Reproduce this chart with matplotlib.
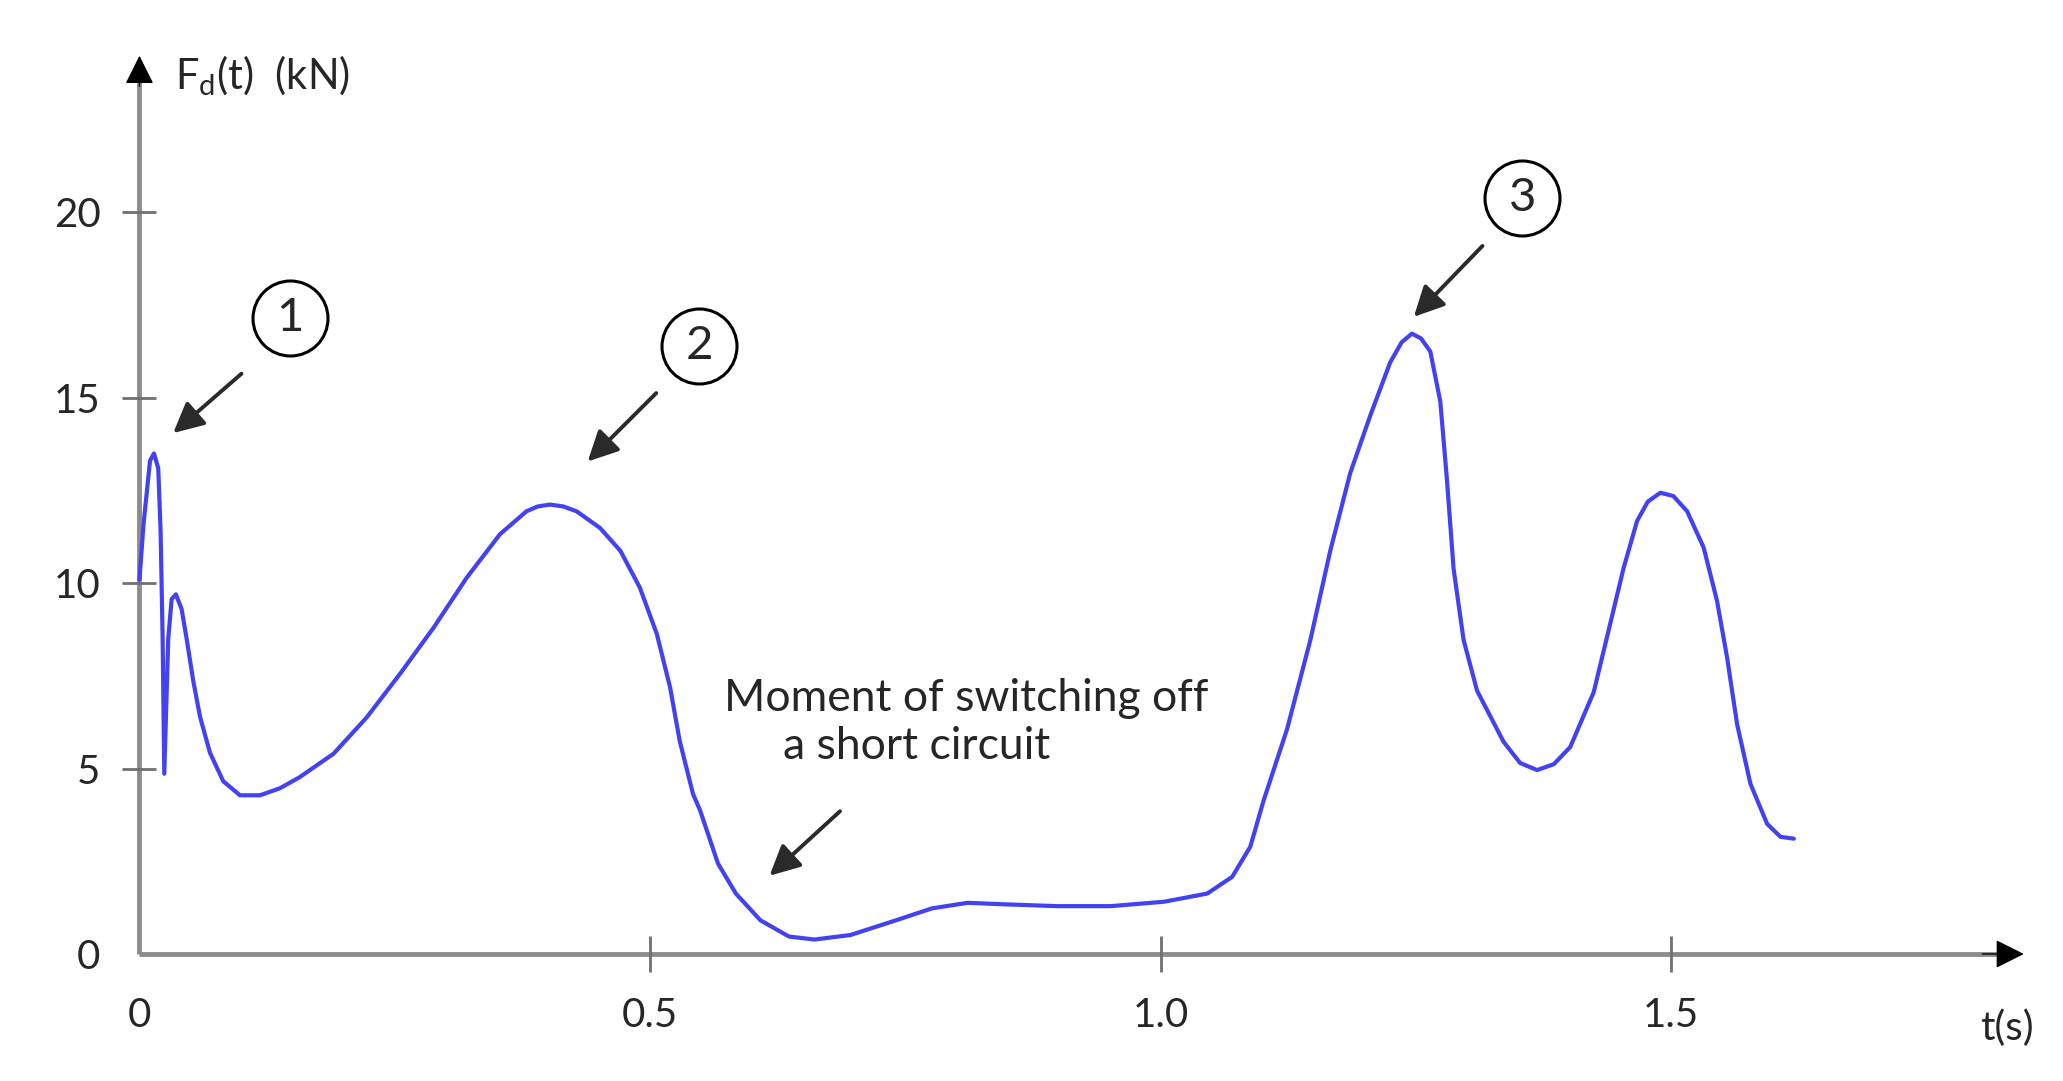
import matplotlib.pyplot as plt

plt.rcParams['font.family'] = ['Lato', 'DejaVu Sans']

# curve: t (s), Fd (kN)
t = [0.0, 0.004, 0.007, 0.0103, 0.0142, 0.0184, 0.0207, 0.0227, 0.0243, 0.0282,
     0.0315, 0.0357, 0.0413, 0.0462, 0.0527, 0.0593, 0.069, 0.082, 0.0984, 0.118,
     0.1376, 0.157, 0.19, 0.2225, 0.255, 0.288, 0.3205, 0.353, 0.379, 0.39,
     0.402, 0.415, 0.428, 0.451, 0.471, 0.490, 0.5066, 0.5196, 0.529, 0.542,
     0.549, 0.5665, 0.584, 0.608, 0.636, 0.661, 0.696, 0.741, 0.776, 0.811,
     0.846, 0.899, 0.951, 1.0035, 1.0456, 1.070, 1.0877, 1.1008, 1.1237, 1.1465,
     1.166, 1.1857, 1.2052, 1.2248, 1.236, 1.246, 1.255, 1.264, 1.2738, 1.2803,
     1.2868, 1.2966, 1.3098, 1.3358, 1.352, 1.3686, 1.385, 1.401, 1.424, 1.4403,
     1.4534, 1.4665, 1.477, 1.4893, 1.502, 1.5155, 1.5317, 1.5448, 1.5546, 1.5644,
     1.5775, 1.5938, 1.6069, 1.620]
force = [10.1, 11.6, 12.4, 13.3, 13.5, 13.1, 11.4, 8.5, 4.86, 8.5,
         9.57, 9.7, 9.3, 8.5, 7.36, 6.4, 5.43, 4.66, 4.28, 4.28,
         4.47, 4.77, 5.40, 6.38, 7.55, 8.80, 10.15, 11.32, 11.94, 12.07,
         12.12, 12.07, 11.94, 11.49, 10.87, 9.88, 8.63, 7.19, 5.75, 4.32,
         3.87, 2.44, 1.63, 0.91, 0.47, 0.39, 0.51, 0.91, 1.23, 1.38,
         1.34, 1.29, 1.29, 1.41, 1.63, 2.08, 2.89, 4.14, 6.06, 8.46,
         10.87, 12.98, 14.52, 15.96, 16.5, 16.73, 16.6, 16.25, 14.9, 12.79,
         10.39, 8.47, 7.10, 5.72, 5.15, 4.96, 5.12, 5.58, 7.06, 8.92,
         10.42, 11.68, 12.2, 12.44, 12.35, 11.94, 10.96, 9.52, 8.0, 6.20,
         4.59, 3.51, 3.16, 3.11]

xticks = [0, 0.5, 1.0, 1.5]
xtick_labels = ['0', '0.5', '1.0', '1.5']
yticks = [0, 5, 10, 15, 20]
ytick_labels = ['0', '5', '10', '15', '20']

# numbered markers: label, circle centre, arrow start, arrow tip
marks = ['1', '2', '3']
mark_pos = [(0.147, 17.16), (0.548, 16.4), (1.354, 20.4)]
arrow_from = [(0.102, 15.7), (0.508, 15.18), (1.317, 19.15)]
arrow_to = [(0.031, 14.0), (0.437, 13.23), (1.246, 17.13)]

fig = plt.figure(figsize=(20.63, 10.81), dpi=100)
ax = fig.add_axes([0.0676, 0.1175, 0.9148, 0.8335])
ax.set_xlim(0, 1.848)
ax.set_ylim(0, 24.3)
for s in ax.spines.values():
    s.set_visible(False)

axis_col = '#8c8c8c'
txt_col = '#262626'

# axes with arrow heads
ax.plot([0, 0.985], [0, 0], transform=ax.transAxes, color=axis_col, lw=3.5,
        clip_on=False, solid_capstyle='butt', zorder=1)
ax.plot([0, 0], [0, 0.98], transform=ax.transAxes, color=axis_col, lw=3.5,
        clip_on=False, solid_capstyle='butt', zorder=1)
ax.annotate('', xy=(1, 0), xytext=(0.975, 0), xycoords='axes fraction',
            arrowprops=dict(arrowstyle='-|>', color='black', lw=1,
                            mutation_scale=45))
ax.annotate('', xy=(0, 1), xytext=(0, 0.96), xycoords='axes fraction',
            arrowprops=dict(arrowstyle='-|>', color='black', lw=1,
                            mutation_scale=45))

ax.set_xticks(xticks)
ax.set_xticklabels(xtick_labels)
ax.set_yticks(yticks)
ax.set_yticklabels(ytick_labels)
ax.tick_params(axis='x', direction='inout', length=26, width=2,
               color='#707070', pad=18, labelsize=29, labelcolor=txt_col)
ax.tick_params(axis='y', direction='inout', length=24, width=2,
               color='#707070', pad=16, labelsize=29, labelcolor=txt_col)
ax.xaxis.get_major_ticks()[0].tick1line.set_visible(False)
ax.yaxis.get_major_ticks()[0].tick1line.set_visible(False)

ax.text(1.829, -2.0, 't(s)', fontsize=29, color=txt_col, ha='center',
        va='center', clip_on=False)
ax.text(0.035, 23.7, r'F$_\mathregular{d}$(t)  (kN)', fontsize=30,
        color=txt_col, ha='left', va='center')

ax.plot(t, force, color='#4242f2', lw=3, zorder=3, clip_on=False,
        solid_joinstyle='round', solid_capstyle='round')

for lab, pos, a0, a1 in zip(marks, mark_pos, arrow_from, arrow_to):
    ax.plot(*pos, 'o', ms=54, mfc='white', mec='black', mew=2.2, zorder=4)
    ax.text(*pos, lab, fontsize=34, ha='center', va='center',
            color=txt_col, zorder=5)
    ax.annotate('', xy=a1, xytext=a0,
                arrowprops=dict(arrowstyle='-|>', color='#2a2a2a', lw=2.8,
                                mutation_scale=46))

ax.text(0.572, 6.9, 'Moment of switching off', fontsize=32, color=txt_col,
        ha='left', va='center')
ax.text(0.630, 5.6, 'a short circuit', fontsize=32, color=txt_col,
        ha='left', va='center')
ax.annotate('', xy=(0.615, 2.06), xytext=(0.688, 3.9),
            arrowprops=dict(arrowstyle='-|>', color='#2a2a2a', lw=2.8,
                            mutation_scale=46))

fig.savefig('out.png', dpi=100, facecolor='white')
